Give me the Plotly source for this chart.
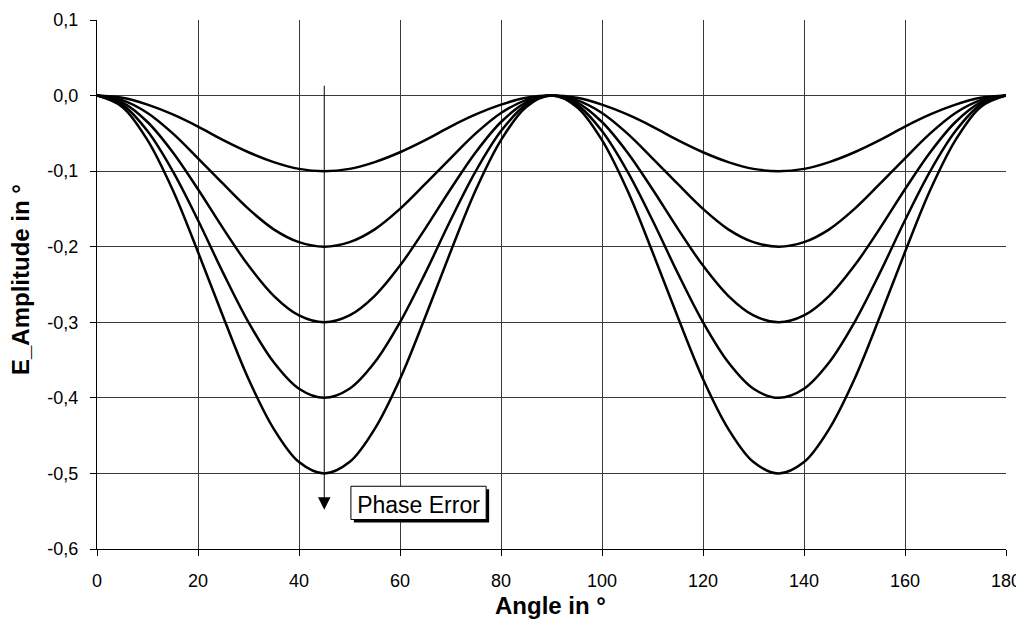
import plotly.graph_objects as go

angle = [0, 5, 10, 15, 20, 25, 30, 35, 40, 45, 50, 55, 60, 65, 70, 75, 80, 85, 90,
         95, 100, 105, 110, 115, 120, 125, 130, 135, 140, 145, 150, 155, 160, 165, 170, 175, 180]

err_01 = [0, -0.003, -0.012, -0.025, -0.041, -0.059, -0.075, -0.088, -0.097, -0.100,
          -0.097, -0.088, -0.075, -0.059, -0.041, -0.025, -0.012, -0.003, 0,
          -0.003, -0.012, -0.025, -0.041, -0.059, -0.075, -0.088, -0.097, -0.100,
          -0.097, -0.088, -0.075, -0.059, -0.041, -0.025, -0.012, -0.003, 0]
err_02 = [0, -0.006, -0.023, -0.050, -0.083, -0.117, -0.150, -0.177, -0.194, -0.200,
          -0.194, -0.177, -0.150, -0.117, -0.083, -0.050, -0.023, -0.006, 0,
          -0.006, -0.023, -0.050, -0.083, -0.117, -0.150, -0.177, -0.194, -0.200,
          -0.194, -0.177, -0.150, -0.117, -0.083, -0.050, -0.023, -0.006, 0]
err_03 = [0, -0.009, -0.035, -0.075, -0.124, -0.176, -0.225, -0.265, -0.291, -0.300,
          -0.291, -0.265, -0.225, -0.176, -0.124, -0.075, -0.035, -0.009, 0,
          -0.009, -0.035, -0.075, -0.124, -0.176, -0.225, -0.265, -0.291, -0.300,
          -0.291, -0.265, -0.225, -0.176, -0.124, -0.075, -0.035, -0.009, 0]
err_04 = [0, -0.012, -0.047, -0.100, -0.165, -0.235, -0.300, -0.353, -0.388, -0.400,
          -0.388, -0.353, -0.300, -0.235, -0.165, -0.100, -0.047, -0.012, 0,
          -0.012, -0.047, -0.100, -0.165, -0.235, -0.300, -0.353, -0.388, -0.400,
          -0.388, -0.353, -0.300, -0.235, -0.165, -0.100, -0.047, -0.012, 0]
err_05 = [0, -0.015, -0.059, -0.125, -0.207, -0.293, -0.375, -0.441, -0.485, -0.500,
          -0.485, -0.441, -0.375, -0.293, -0.207, -0.125, -0.059, -0.015, 0,
          -0.015, -0.059, -0.125, -0.207, -0.293, -0.375, -0.441, -0.485, -0.500,
          -0.485, -0.441, -0.375, -0.293, -0.207, -0.125, -0.059, -0.015, 0]

series = [err_01, err_02, err_03, err_04, err_05]

x_ticks = [0, 20, 40, 60, 80, 100, 120, 140, 160, 180]
y_ticks = [0.1, 0.0, -0.1, -0.2, -0.3, -0.4, -0.5, -0.6]
y_tick_labels = ["0,1", "0,0", "-0,1", "-0,2", "-0,3", "-0,4", "-0,5", "-0,6"]

FONT = "Liberation Sans, Arial, sans-serif"
GRID = "#3a3a3a"

# page has an 8px body margin; margins compensate so the plot area sits at page x 97..1006, y 20..549
L, R, T, B = 89, 26, 12, 87
PW = 1024 - L - R
PH = 628 - T - B
PX0, PY1 = 8 + L, 8 + T + PH  # page coords of plot left / bottom

fig = go.Figure()
for s in series:
    fig.add_trace(go.Scatter(x=angle, y=s, mode="lines",
                             line=dict(color="black", width=2.5, shape="spline", smoothing=1.0),
                             showlegend=False, hoverinfo="skip"))

# Arrow "Phase Error"
fig.add_annotation(x=45, y=-0.548, ax=45, ay=0.015, xref="x", yref="y",
                   axref="x", ayref="y", text="", showarrow=True,
                   arrowhead=2, arrowsize=2.5, arrowwidth=1, arrowcolor="black")
# label box with drop shadow
fig.add_shape(type="rect", xref="x", yref="y", x0=50.87, x1=77.65, y0=-0.565, y1=-0.521,
              fillcolor="black", line=dict(width=0), layer="above")
fig.add_shape(type="rect", xref="x", yref="y", x0=50.28, x1=77.06, y0=-0.561, y1=-0.517,
              fillcolor="white", line=dict(color="black", width=1), layer="above",
              label=dict(text="Phase Error", font=dict(family=FONT, size=23, color="black"),
                         textposition="middle center"))

# axis titles
fig.add_annotation(xref="paper", yref="paper", x=(550 - PX0) / PW, y=-(605 - PY1) / PH,
                   text="<b>Angle in °</b>", showarrow=False,
                   font=dict(family=FONT, size=24, color="black"),
                   xanchor="center", yanchor="middle")
fig.add_annotation(xref="paper", yref="paper", x=(20 - PX0) / PW, y=(PY1 - 280) / PH,
                   text="<b>E_Amplitude in °</b>", showarrow=False, textangle=-90,
                   font=dict(family=FONT, size=24, color="black"),
                   xanchor="center", yanchor="middle")

fig.update_layout(
    width=1024, height=628,
    margin=dict(l=L, r=R, t=T, b=B),
    paper_bgcolor="white", plot_bgcolor="white",
    font=dict(family=FONT, size=18, color="black"),
    xaxis=dict(range=[0, 180], tickvals=x_ticks, ticks="outside", ticklen=6,
               tickcolor="black", showline=True, linecolor="black", linewidth=1,
               showgrid=True, gridcolor=GRID, gridwidth=1, zeroline=False,
               automargin=False, ticklabelstandoff=9,
               tickfont=dict(family=FONT, size=18)),
    yaxis=dict(range=[-0.6, 0.1], tickvals=y_ticks, ticktext=y_tick_labels, ticks="outside",
               ticklen=6, tickcolor="black", showline=True, linecolor="black", linewidth=1,
               showgrid=True, gridcolor=GRID, gridwidth=1, zeroline=False,
               automargin=False, ticklabelstandoff=8,
               tickfont=dict(family=FONT, size=18)),
)

fig.write_html("out.html")
